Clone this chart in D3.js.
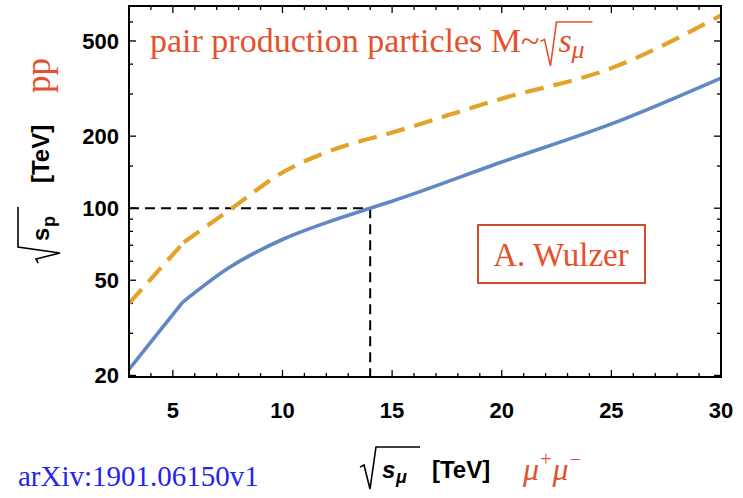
<!DOCTYPE html><html><head><meta charset="UTF-8"><title>sqrt s_p vs sqrt s_mu</title><script src="https://d3js.org/d3.v7.min.js"></script><style>
  body { margin: 0; background: #fff; }
  svg { display: block; }
  .tick-label { font-family: "Liberation Sans", Arial, sans-serif; font-weight: bold; fill: #000; }
  .red { fill: #e4512c; font-family: "Liberation Serif", "Times New Roman", serif; }
</style></head><body><svg id="chart" width="743" height="498"></svg><script>
// values
const sMuBlue = [3, 5.45, 7.5, 10, 12, 14, 15, 20, 25, 30];
const sPBlue = [21.2, 40.5, 56, 74, 87, 100, 107, 156, 225, 350];
const sMuOrange = [3, 5.5, 7.7, 10, 12.5, 15, 20, 25, 30];
const sPOrange = [40, 72, 100, 141, 178, 207, 287, 385, 640];
const xMajor = [5, 10, 15, 20, 25, 30];
const yMajor = [20, 50, 100, 200, 500];
const yMinor = [30, 40, 60, 70, 80, 90, 150, 300, 400, 600];

const svg = d3.select("#chart");
const L = 129, R = 721, T = 6, B = 377;

const x = d3.scaleLinear().domain([3, 30]).range([L, R]);
const y = d3.scaleLog().domain([19.7, 700]).range([B, T]);

const xMinor = d3.range(4, 30).filter(v => v % 5 !== 0);

// ticks, pointing inward on all four sides
const tk = svg.append("g").attr("stroke", "#000").attr("stroke-width", 1.3);
xMajor.concat(xMinor).forEach(v => {
  const len = xMajor.includes(v) ? 7 : 4;
  tk.append("line").attr("x1", x(v)).attr("x2", x(v)).attr("y1", B).attr("y2", B - len);
  tk.append("line").attr("x1", x(v)).attr("x2", x(v)).attr("y1", T).attr("y2", T + len);
});
yMajor.concat(yMinor).forEach(v => {
  const len = yMajor.includes(v) ? 7 : 4;
  tk.append("line").attr("x1", L).attr("x2", L + len).attr("y1", y(v)).attr("y2", y(v));
  tk.append("line").attr("x1", R).attr("x2", R - len).attr("y1", y(v)).attr("y2", y(v));
});

// tick labels
svg.selectAll(".xl").data(xMajor).enter().append("text")
  .attr("class", "tick-label").attr("font-size", 22).attr("x", d => x(d)).attr("y", 418)
  .attr("text-anchor", "middle").text(d => d);
svg.selectAll(".yl").data(yMajor).enter().append("text")
  .attr("class", "tick-label").attr("font-size", 22).attr("x", 119).attr("y", d => y(d) + 8)
  .attr("text-anchor", "end").text(d => d);

// dashed guide at sqrt(s_p) = 100, sqrt(s_mu) = 14
const guide = svg.append("g").attr("stroke", "#000").attr("stroke-width", 2)
  .attr("stroke-dasharray", "10,6").attr("fill", "none");
guide.append("line").attr("x1", L).attr("x2", x(14)).attr("y1", y(100)).attr("y2", y(100));
guide.append("line").attr("x1", x(14)).attr("x2", x(14)).attr("y1", y(100)).attr("y2", B);

// curves: straight first segment, smooth afterwards
function drawCurve(xs, ys, color, dash) {
  const pts = xs.map((v, i) => [x(v), y(ys[i])]);
  const lin = d3.line();
  const smooth = d3.line().curve(d3.curveMonotoneX);
  [lin(pts.slice(0, 2)), smooth(pts.slice(1))].forEach(d => {
    svg.append("path").attr("d", d).attr("fill", "none")
      .attr("stroke", color).attr("stroke-width", dash ? 4.2 : 3.6)
      .attr("stroke-dasharray", dash || null).attr("stroke-linecap", "butt");
  });
}
drawCurve(sMuBlue, sPBlue, "#6088c2", null);
drawCurve(sMuOrange, sPOrange, "#e3a22a", "19,10");

// frame
svg.append("rect").attr("x", L).attr("y", T).attr("width", R - L).attr("height", B - T)
  .attr("fill", "none").attr("stroke", "#000").attr("stroke-width", 2);

// radical sign helper
function radical(g, x0, base, top, bottom, w, color, sw) {
  const p = d3.path();
  p.moveTo(x0, base - 0.35 * (base - top));
  p.lineTo(x0 + 4, base - 0.42 * (base - top));
  p.lineTo(x0 + 10, bottom);
  p.lineTo(x0 + 16, top);
  p.lineTo(x0 + 16 + w, top);
  g.append("path").attr("d", p.toString()).attr("fill", "none")
    .attr("stroke", color).attr("stroke-width", sw);
}

// title inside the frame
const title = svg.append("text").attr("class", "red").attr("x", 150).attr("y", 52)
  .attr("font-size", 34).text("pair production particles M~");
const tEnd = 150 + title.node().getComputedTextLength();
radical(svg, tEnd + 1, 52, 22, 66, 36, "#e4512c", 1.6);
svg.append("text").attr("class", "red").attr("x", tEnd + 19).attr("y", 52)
  .attr("font-size", 34).attr("font-style", "italic").text("s");
svg.append("text").attr("class", "red").attr("x", tEnd + 32).attr("y", 58)
  .attr("font-size", 26).attr("font-style", "italic").text("μ");

// "pp" rotated
svg.append("text").attr("class", "red").attr("font-size", 35)
  .attr("transform", "translate(50,93) rotate(-90)").text("pp");

// y axis label, rotated
const yl = svg.append("g").attr("transform", "translate(49,263) rotate(-90)");
radical(yl, 0, 0, -31, 11, 40, "#000", 1.6);
yl.append("text").attr("class", "tick-label").attr("font-size", 24).attr("x", 22).attr("y", 0)
  .text("s");
yl.append("text").attr("class", "tick-label").attr("font-size", 18).attr("x", 36).attr("y", 6).text("p");
yl.append("text").attr("class", "tick-label").attr("font-size", 24).attr("x", 80).attr("y", 0).text("[TeV]");

// x axis label
const xl = svg.append("g").attr("transform", "translate(360,478)");
radical(xl, 0, 0, -31, 11, 44, "#000", 1.6);
xl.append("text").attr("class", "tick-label").attr("font-size", 24).attr("x", 22).attr("y", 0)
  .attr("font-style", "italic").text("s");
xl.append("text").attr("class", "tick-label").attr("font-size", 18).attr("x", 36).attr("y", 5)
  .attr("font-style", "italic").text("μ");
xl.append("text").attr("class", "tick-label").attr("font-size", 24).attr("x", 72).attr("y", 0).text("[TeV]");

// mu+ mu-
const mm = svg.append("text").attr("class", "red").attr("x", 523).attr("y", 480)
  .attr("font-size", 32).attr("font-style", "italic");
mm.append("tspan").text("μ");
mm.append("tspan").attr("dy", -14).attr("font-size", 20).text("+");
mm.append("tspan").attr("dy", 14).text("μ");
mm.append("tspan").attr("dy", -14).attr("font-size", 20).text("−");

// arXiv reference
svg.append("text").attr("x", 18).attr("y", 486).attr("font-size", 29)
  .attr("font-family", "'Liberation Serif', 'Times New Roman', serif")
  .attr("fill", "#2424ee").text("arXiv:1901.06150v1");

// author box
svg.append("rect").attr("x", 478).attr("y", 225).attr("width", 167).attr("height", 58)
  .attr("fill", "#fff").attr("stroke", "#c9502c").attr("stroke-width", 2);
svg.append("text").attr("class", "red").attr("x", 561).attr("y", 266)
  .attr("font-size", 33).attr("text-anchor", "middle").text("A. Wulzer");
</script></body></html>
